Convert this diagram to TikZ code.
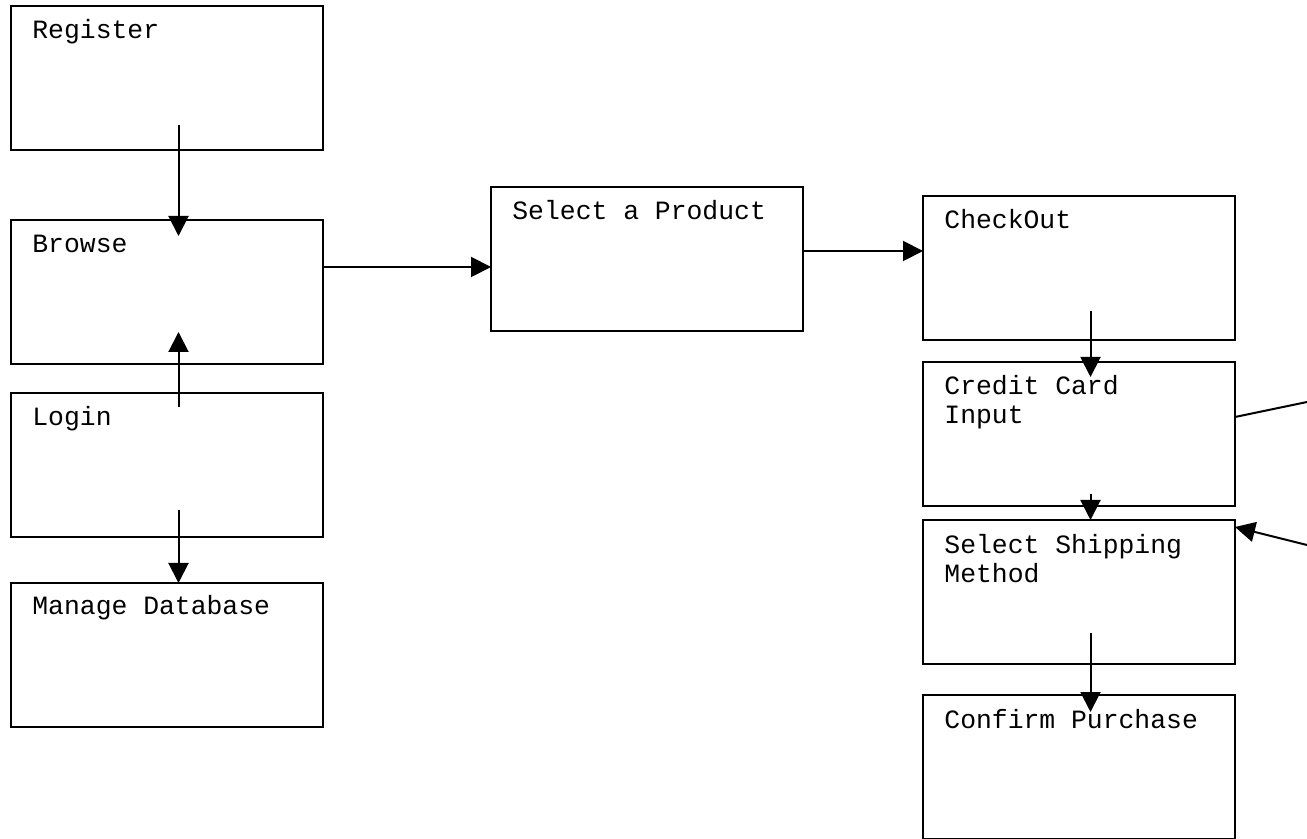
\documentclass[tikz,border=0pt]{standalone}
\usepackage{fontspec}
\setmonofont{Liberation Mono}
\usetikzlibrary{arrows.meta,positioning}
\tikzset{
    box/.style={draw,line width=1pt,minimum width=156pt,minimum height=72pt,inner sep=0pt,outer sep=0pt,anchor=north west},
    boxtext/.style={anchor=base west,inner sep=0pt,align=left,font=\ttfamily\fontsize{13.2}{14.5}\selectfont},
    arr/.style={-{Triangle[length=10pt,width=10pt]},line width=1pt},
    plainline/.style={line width=1pt},
}

\begin{document}
\begin{tikzpicture}[x=0.5pt,y=-0.5pt]
    \useasboundingbox (0,0) rectangle (1307,839);
    % boxes
    \node[box] (reg) at (11,6) {};
    \node[box] (brw) at (11,220) {};
    \node[box] (log) at (11,393) {};
    \node[box] (man) at (11,583) {};
    \node[box] (sel) at (491,187) {};
    \node[box] (chk) at (923,196) {};
    \node[box] (crd) at (923,362) {};
    \node[box] (shp) at (923,520) {};
    \node[box] (cnf) at (923,695) {};
    % texts (two-line ones sit on the base of their last line)
    \node[boxtext] (reg-t) at ([shift={(21,33)}]reg.north west) {Register};
    \node[boxtext] (brw-t) at ([shift={(21,33)}]brw.north west) {Browse};
    \node[boxtext] (log-t) at ([shift={(21,33)}]log.north west) {Login};
    \node[boxtext] (man-t) at ([shift={(21,31)}]man.north west) {Manage Database};
    \node[boxtext] (sel-t) at ([shift={(21,33)}]sel.north west) {Select a Product};
    \node[boxtext] (chk-t) at ([shift={(21,33)}]chk.north west) {CheckOut};
    \node[boxtext] (crd-t) at ([shift={(21,62)}]crd.north west) {Credit Card\\Input};
    \node[boxtext] (shp-t) at ([shift={(21,62)}]shp.north west) {Select Shipping\\Method};
    \node[boxtext] (cnf-t) at ([shift={(21,33)}]cnf.north west) {Confirm Purchase};
    % connectors
    \draw[arr] ([shift={(11.5,-25)}]reg.south) -- ([shift={(11.5,16)}]brw.north);
    \draw[arr] ([shift={(11.5,14)}]log.north) -- ([shift={(11.5,-32)}]brw.south);
    \draw[arr] ([shift={(11.5,-27)}]log.south) -- ([shift={(11.5,0)}]man.north);
    \draw[arr] ([yshift=12.5pt]brw.east) -- ([yshift=-4pt]sel.west);
    \draw[arr] ([yshift=4pt]sel.east) -- ([yshift=8.5pt]chk.west);
    \draw[arr] ([shift={(11.5,-29)}]chk.south) -- ([shift={(11.5,15)}]crd.north);
    \draw[arr] ([shift={(11.5,-12)}]crd.south) -- ([shift={(11.5,0)}]shp.north);
    \draw[arr] ([shift={(11.5,-31)}]shp.south) -- ([shift={(11.5,17)}]cnf.north);
    \coordinate (out1) at (1307,402);
    \coordinate (out2) at (1307,545);
    \draw[plainline] ([yshift=8.5pt]crd.east) -- (out1);
    \draw[arr] (out2) -- ([yshift=32.5pt]shp.east);
\end{tikzpicture}
\end{document}
